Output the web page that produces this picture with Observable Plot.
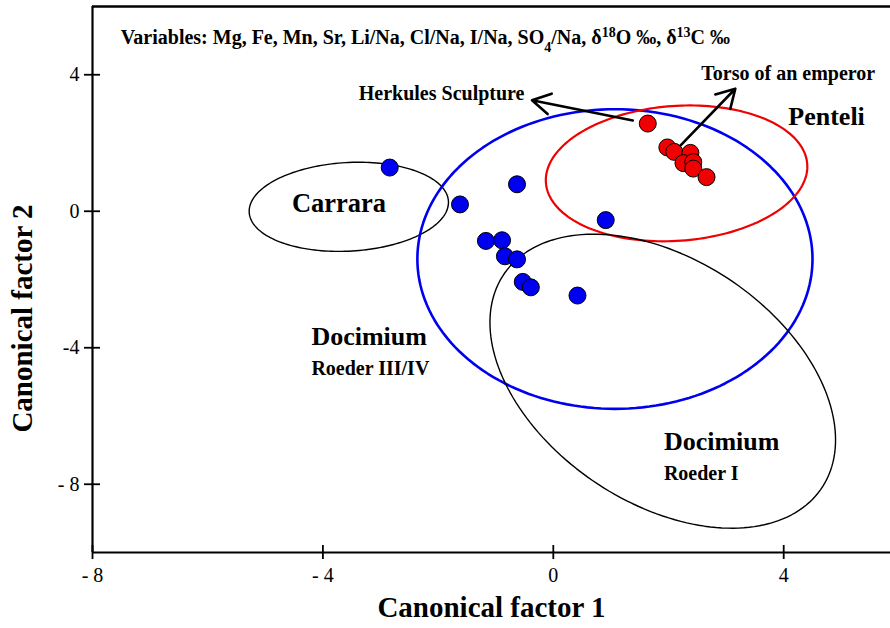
<!DOCTYPE html>
<html><head><meta charset="utf-8">
<script src="https://cdn.jsdelivr.net/npm/d3@7"></script>
<script src="https://cdn.jsdelivr.net/npm/@observablehq/plot@0.6"></script>
<style>
html,body{margin:0;padding:0;background:#fff;}
#chart{width:890px;height:628px;overflow:hidden;}
</style></head><body><div id="chart"></div>
<script>
// ---- data ----
const xTicks = [-8, -4, 0, 4];
const xTickLabels = ["- 8", "- 4", "0", "4"];
const yTicks = [4, 0, -4, -8];
const yTickLabels = ["4", "0", "-4", "- 8"];

// Docimium samples (blue)
const blueX = [-2.84, -1.62, -0.63, -1.17, -0.89, -0.84, -0.63, -0.53, -0.39, 0.91, 0.42];
const blueY = [1.28, 0.20, 0.79, -0.87, -0.85, -1.32, -1.41, -2.07, -2.23, -0.26, -2.47];

// Penteli samples (red)
const redX = [1.64, 1.98, 2.10, 2.38, 2.26, 2.43, 2.43, 2.66];
const redY = [2.57, 1.87, 1.74, 1.71, 1.41, 1.44, 1.25, 1.00];

// confidence ellipses: centre and two conjugate semi-axis vectors (data units)
const ellipseNames = ["Carrara", "Docimium III/IV", "Penteli", "Docimium I"];
const ellipseCX = [-3.55, 1.07, 2.14, 1.90];
const ellipseCY = [0.13, -1.40, 1.11, -4.98];
const ellipseUX = [1.73, 3.43, 2.27, 3.00];
const ellipseUY = [0.13, 0.00, 0.20, -1.72];
const ellipseVX = [0.00, 0.00, 0.00, 0.00];
const ellipseVY = [-1.30, -4.39, -1.98, -3.95];

// annotation arrows
const arrowX1 = [1.38, 2.21];
const arrowY1 = [2.66, 1.93];
const arrowX2 = [-0.37, 3.16];
const arrowY2 = [3.25, 3.59];

// labels
const centredLabels = ["Carrara"];
const centredLabelX = [-3.72];
const centredLabelY = [0.23];
const bigLabels = ["Penteli", "Docimium", "Docimium"];
const bigLabelX = [4.08, -4.20, 1.92];
const bigLabelY = [2.76, -3.68, -6.75];
const subLabels = ["Roeder III/IV", "Roeder I"];
const subLabelX = [-4.20, 1.92];
const subLabelY = [-4.60, -7.68];
const leftSampleLabels = ["Herkules Sculpture"];
const leftSampleX = [-0.50];
const leftSampleY = [3.45];
const rightSampleLabels = ["Torso of an emperor"];
const rightSampleX = [2.57];
const rightSampleY = [4.03];
const variablesParts = ["Variables: Mg, Fe, Mn, Sr, Li/Na, Cl/Na, I/Na, SO", "4", "/Na, δ", "18", "O ‰, δ", "13", "C ‰"];
const variablesKinds = ["", "sub", "", "sup", "", "sup", ""];
const variablesX = [-7.51];
const variablesY = [5.09];
const xTitle = "Canonical factor 1";
const yTitle = "Canonical factor 2";

// ---- styles ----
const ellipseStroke = {"Carrara": "black", "Docimium III/IV": "#0000f0", "Penteli": "#f00000", "Docimium I": "black"};
const ellipseWidth = {"Carrara": 1.4, "Docimium III/IV": 2.6, "Penteli": 2.2, "Docimium I": 1.4};
const serif = "'Liberation Serif', 'Times New Roman', serif";

// ---- build tables ----
const pts = (xs, ys) => xs.map((x, i) => ({x, y: ys[i]}));
const lab = (ts, xs, ys) => ts.map((t, i) => ({t, x: xs[i], y: ys[i]}));
const blue = pts(blueX, blueY);
const red = pts(redX, redY);
const ellipsePts = [];
ellipseNames.forEach((name, k) => {
  for (let a = 0; a <= 360; a += 2) {
    const t = a * Math.PI / 180;
    ellipsePts.push({
      name,
      x: ellipseCX[k] + ellipseUX[k] * Math.cos(t) + ellipseVX[k] * Math.sin(t),
      y: ellipseCY[k] + ellipseUY[k] * Math.cos(t) + ellipseVY[k] * Math.sin(t)
    });
  }
});
const arrows = arrowX1.map((x1, i) => ({x1, y1: arrowY1[i], x2: arrowX2[i], y2: arrowY2[i]}));
const variablesText = variablesParts.join("");

const chart = Plot.plot({
  width: 890,
  height: 628,
  marginLeft: 92,
  marginRight: 0,
  marginTop: 6,
  marginBottom: 76,
  x: {domain: [-8, 5.854]},
  y: {domain: [-10, 6]},
  style: {fontFamily: serif, background: "white", color: "black"},
  marks: [
    // frame lines
    Plot.ruleX([-8], {strokeWidth: 2.2}),
    Plot.ruleY([-10], {strokeWidth: 2.2}),
    Plot.ruleY([6], {strokeWidth: 2.6}),
    // crossing ticks
    Plot.ruleX(xTicks, {x: d => d, y1: -10, y2: -10, insetTop: -7, insetBottom: -7, strokeWidth: 1.8}),
    Plot.ruleY(yTicks, {y: d => d, x1: -8, x2: -8, insetLeft: -8, insetRight: -8, strokeWidth: 1.8}),
    // tick labels
    Plot.axisX(xTicks, {tickSize: 0, tickPadding: 15, fontSize: 20, label: null,
      tickFormat: d => xTickLabels[xTicks.indexOf(d)]}),
    Plot.axisY(yTicks, {tickSize: 0, tickPadding: 13, fontSize: 20, label: null,
      tickFormat: d => yTickLabels[yTicks.indexOf(d)]}),
    // axis titles
    Plot.text([xTitle], {frameAnchor: "bottom", text: d => d, textAnchor: "middle", dy: 64, fontSize: 29, fontWeight: "bold"}),
    Plot.text([yTitle], {frameAnchor: "left", text: d => d, textAnchor: "middle", dx: -70, dy: 39, rotate: -90, fontSize: 29, fontWeight: "bold"}),
    // ellipses
    Plot.line(ellipsePts, {x: "x", y: "y", z: "name", stroke: d => ellipseStroke[d.name], strokeWidth: d => ellipseWidth[d.name]}),
    // points
    Plot.dot(blue, {x: "x", y: "y", r: 8.5, fill: "#0000f0", stroke: "black", strokeWidth: 1}),
    Plot.dot(red, {x: "x", y: "y", r: 8.5, fill: "#f00000", stroke: "black", strokeWidth: 1}),
    // arrows
    Plot.arrow(arrows, {x1: "x1", y1: "y1", x2: "x2", y2: "y2", stroke: "black", strokeWidth: 2.6, headLength: 12}),
    // labels
    Plot.text(lab(centredLabels, centredLabelX, centredLabelY), {x: "x", y: "y", text: "t", textAnchor: "middle", fontSize: 26.5, fontWeight: "bold"}),
    Plot.text(lab(bigLabels, bigLabelX, bigLabelY), {x: "x", y: "y", text: "t", textAnchor: "start", fontSize: 26, fontWeight: "bold"}),
    Plot.text(lab(subLabels, subLabelX, subLabelY), {x: "x", y: "y", text: "t", textAnchor: "start", fontSize: 20, fontWeight: "bold"}),
    Plot.text(lab(leftSampleLabels, leftSampleX, leftSampleY), {x: "x", y: "y", text: "t", textAnchor: "end", fontSize: 20, fontWeight: "bold"}),
    Plot.text(lab(rightSampleLabels, rightSampleX, rightSampleY), {x: "x", y: "y", text: "t", textAnchor: "start", fontSize: 20, fontWeight: "bold"}),
    Plot.text(variablesX, {x: d => d, y: (d, i) => variablesY[i], text: () => variablesText, textAnchor: "start", fontSize: 20, fontWeight: "bold"})
  ]
});

// rebuild the variables line with real sub/superscripts
d3.select(chart).selectAll("text").each(function() {
  if (this.textContent === variablesText) {
    const el = d3.select(this);
    el.text(null);
    variablesParts.forEach((p, i) => {
      const ts = el.append("tspan").text(p);
      if (variablesKinds[i] === "sub") ts.attr("baseline-shift", "sub").attr("font-size", "70%");
      if (variablesKinds[i] === "sup") ts.attr("baseline-shift", "super").attr("font-size", "70%");
    });
  }
});
document.getElementById("chart").appendChild(chart);
</script>
</body></html>
